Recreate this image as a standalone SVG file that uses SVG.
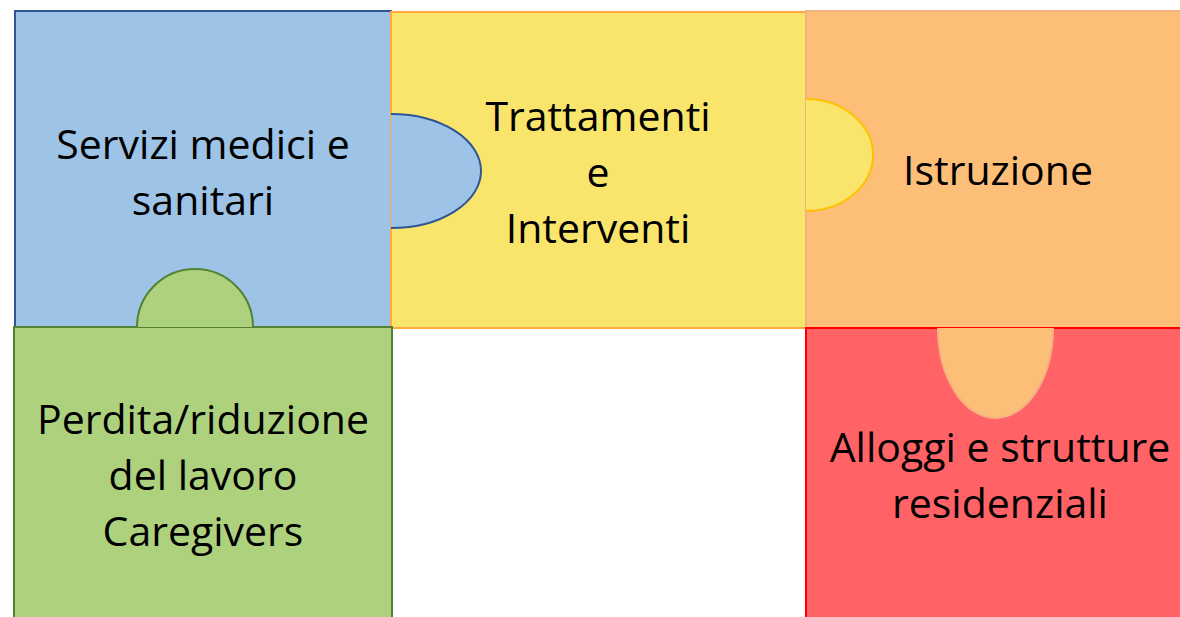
<svg xmlns="http://www.w3.org/2000/svg" width="1180" height="617" viewBox="0 0 1180 617">
  <style>
    .lbl { font-family: "Open Sans", "Liberation Sans", sans-serif; font-size: 41px; fill: #000; text-anchor: middle; }
    .blue { fill: #9DC3E6; stroke: #2F5597; stroke-width: 2; }
    .yellow { fill: #F9E56C; stroke: #FFA940; stroke-width: 2; }
    .yellow-tab { fill: #F9E56C; stroke: #FFC000; stroke-width: 2; }
    .orange { fill: #FDBF78; stroke: #F4B183; stroke-width: 2; }
    .red { fill: #FF6366; stroke: #FF0000; stroke-width: 2; }
    .green { fill: #AED17E; stroke: #548235; stroke-width: 2; }
  </style>

  <!-- puzzle piece: medical services -->
  <g id="servizi-medici">
    <rect class="blue" x="15" y="11" width="376" height="317"/>
  </g>

  <!-- puzzle piece: treatments -->
  <g id="trattamenti">
    <rect class="yellow" x="391" y="12" width="415" height="316"/>
  </g>

  <!-- puzzle piece: education -->
  <g id="istruzione">
    <rect class="orange" x="806" y="11" width="376" height="317"/>
  </g>

  <!-- tabs linking the pieces -->
  <g id="connectors">
    <path class="blue" d="M391,114 A90,57 0 0 1 391,228"/>
    <path class="yellow-tab" d="M806,99 A67,56 0 0 1 806,211"/>
  </g>

  <!-- puzzle piece: housing -->
  <g id="alloggi">
    <rect class="red" x="806" y="328" width="376" height="292"/>
    <path class="orange" d="M938,328 A57.5,90 0 0 0 1053,328"/>
  </g>

  <!-- puzzle piece: lost work -->
  <g id="perdita-lavoro">
    <rect class="green" x="14" y="327" width="378" height="293"/>
    <path class="green" d="M137,327 A58,58 0 0 1 253,327"/>
  </g>

  <g id="labels">
    <text class="lbl" x="203" y="159">Servizi medici e</text>
    <text class="lbl" x="203" y="215">sanitari</text>
    <text class="lbl" x="598" y="131">Trattamenti</text>
    <text class="lbl" x="598" y="187">e</text>
    <text class="lbl" x="598" y="243">Interventi</text>
    <text class="lbl" x="998" y="185">Istruzione</text>
    <text class="lbl" x="203" y="434">Perdita/riduzione</text>
    <text class="lbl" x="203" y="490">del lavoro</text>
    <text class="lbl" x="203" y="546">Caregivers</text>
    <text class="lbl" x="1000" y="462">Alloggi e strutture</text>
    <text class="lbl" x="1000" y="518">residenziali</text>
  </g>
</svg>
